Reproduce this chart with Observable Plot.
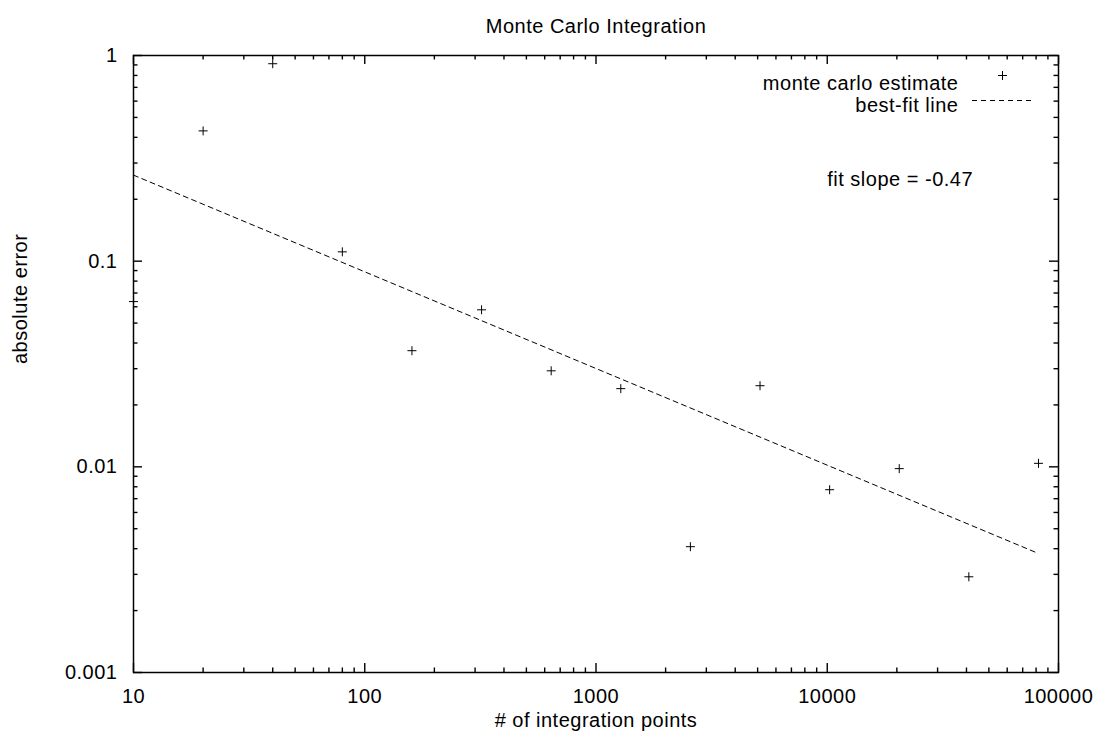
<!DOCTYPE html>
<html>
<head>
<meta charset="utf-8">
<script src="https://cdn.jsdelivr.net/npm/d3@7"></script>
<script src="https://cdn.jsdelivr.net/npm/@observablehq/plot@0.6"></script>
<style>
  html, body { margin: 0; padding: 0; background: white; }
  #chart svg { display: block; }
</style>
</head>
<body>
<div id="chart"></div>
<script>
// ---- data ----
const nPoints = [10, 20, 40, 80, 160, 320, 640, 1280, 2560, 5120, 10240, 20480, 40960, 81920];
const absError = [0.0636, 0.430, 0.912, 0.111, 0.0367, 0.058, 0.0293, 0.0240, 0.00409, 0.0248, 0.00774, 0.0098, 0.00292, 0.0104];

// best-fit line end points (slope -0.47 in log-log)
const fitN = [10, 81920];
const fitErr = [0.262, 0.00379];

const slopeLabel = "fit slope = -0.47";
const slopeAtN = 10000;
const slopeAtErr = 0.25;

// axes
const xMajor = [10, 100, 1000, 10000, 100000];
const xTickLabels = ["10", "100", "1000", "10000", "100000"];
const yMajor = [0.001, 0.01, 0.1, 1];
const yTickLabels = ["0.001", "0.01", "0.1", "1"];
const minorSteps = [2, 3, 4, 5, 6, 7, 8, 9];

const titleText = "Monte Carlo Integration";
const xLabel = "# of integration points";
const yLabel = "absolute error";
const legendLabels = ["monte carlo estimate", "best-fit line"];

// ---- build ----
const points = nPoints.map((n, i) => ({n, err: absError[i]}));
const fit = fitN.map((n, i) => ({n, err: fitErr[i]}));
const xMinor = xMajor.slice(0, -1).flatMap(d => minorSteps.map(k => k * d));
const yMinor = yMajor.slice(0, -1).flatMap(d => minorSteps.map(k => k * d));

const W = 1099, H = 739;
const mL = 133, mR = 41, mT = 55, mB = 67;
const FW = W - mL - mR, FH = H - mT - mB;
const majorLen = 9, minorLen = 4.5;
const tickW = 1.4;

const plusSymbol = {
  draw(context, size) {
    const r = Math.sqrt(size / Math.PI);
    context.moveTo(-r, 0); context.lineTo(r, 0);
    context.moveTo(0, -r); context.lineTo(0, r);
  }
};

const chart = Plot.plot({
  width: W,
  height: H,
  marginLeft: mL, marginRight: mR, marginTop: mT, marginBottom: mB,
  x: {type: "log", domain: [10, 100000]},
  y: {type: "log", domain: [0.001, 1]},
  style: {
    fontFamily: "'Liberation Sans', Arial, Helvetica, sans-serif",
    fontSize: "20px",
    letterSpacing: "0.5px",
    background: "white",
    color: "black",
    overflow: "visible"
  },
  marks: [
    // inward ticks on all four sides (gnuplot style)
    Plot.tickX(xMajor, {x: d => d, insetTop: FH - majorLen, stroke: "black", strokeWidth: tickW}),
    Plot.tickX(xMajor, {x: d => d, insetBottom: FH - majorLen, stroke: "black", strokeWidth: tickW}),
    Plot.tickX(xMinor, {x: d => d, insetTop: FH - minorLen, stroke: "black", strokeWidth: tickW}),
    Plot.tickX(xMinor, {x: d => d, insetBottom: FH - minorLen, stroke: "black", strokeWidth: tickW}),
    Plot.tickY(yMajor, {y: d => d, insetRight: FW - majorLen, stroke: "black", strokeWidth: tickW}),
    Plot.tickY(yMajor, {y: d => d, insetLeft: FW - majorLen, stroke: "black", strokeWidth: tickW}),
    Plot.tickY(yMinor, {y: d => d, insetRight: FW - minorLen, stroke: "black", strokeWidth: tickW}),
    Plot.tickY(yMinor, {y: d => d, insetLeft: FW - minorLen, stroke: "black", strokeWidth: tickW}),
    Plot.frame({stroke: "black", strokeWidth: 1.5}),

    // tick labels
    Plot.axisX(xMajor, {tickSize: 0, tickPadding: 16, tickFormat: d => xTickLabels[xMajor.indexOf(d)], label: null}),
    Plot.axisY(yMajor, {tickSize: 0, tickPadding: 16, tickFormat: d => yTickLabels[yMajor.indexOf(d)], label: null}),

    // fit line
    Plot.line(fit, {x: "n", y: "err", stroke: "black", strokeWidth: 1, strokeDasharray: "5,4"}),

    // data points
    Plot.dot(points, {x: "n", y: "err", symbol: plusSymbol, r: 4.5, stroke: "black", strokeWidth: 1, fill: "none"}),

    // slope annotation
    Plot.text([slopeLabel], {x: () => slopeAtN, y: () => slopeAtErr, text: d => d, textAnchor: "start", fill: "black"}),

    // title and axis labels
    Plot.text([titleText], {frameAnchor: "top", dy: -37, text: d => d, fill: "black"}),
    Plot.text([xLabel], {frameAnchor: "bottom", dy: 54, text: d => d, fill: "black"}),
    Plot.text([yLabel], {frameAnchor: "left", dx: -113, rotate: -90, text: d => d, fill: "black"}),

    // legend
    Plot.text([legendLabels[0]], {frameAnchor: "top-right", dx: -100, dy: 20, textAnchor: "end", text: d => d, fill: "black"}),
    Plot.text([legendLabels[1]], {frameAnchor: "top-right", dx: -100, dy: 42, textAnchor: "end", text: d => d, fill: "black"}),
    Plot.dot([legendLabels[0]], {frameAnchor: "top-right", dx: -56, dy: 20, symbol: plusSymbol, r: 4.5, stroke: "black", strokeWidth: 1, fill: "none"}),
    Plot.ruleY([legendLabels[1]], {y: null, dy: (mT + 45) - (mT + FH / 2), insetLeft: FW - 86, insetRight: 25, stroke: "black", strokeWidth: 1, strokeDasharray: "5,4"})
  ]
});

document.getElementById("chart").appendChild(chart);
</script>
</body>
</html>
